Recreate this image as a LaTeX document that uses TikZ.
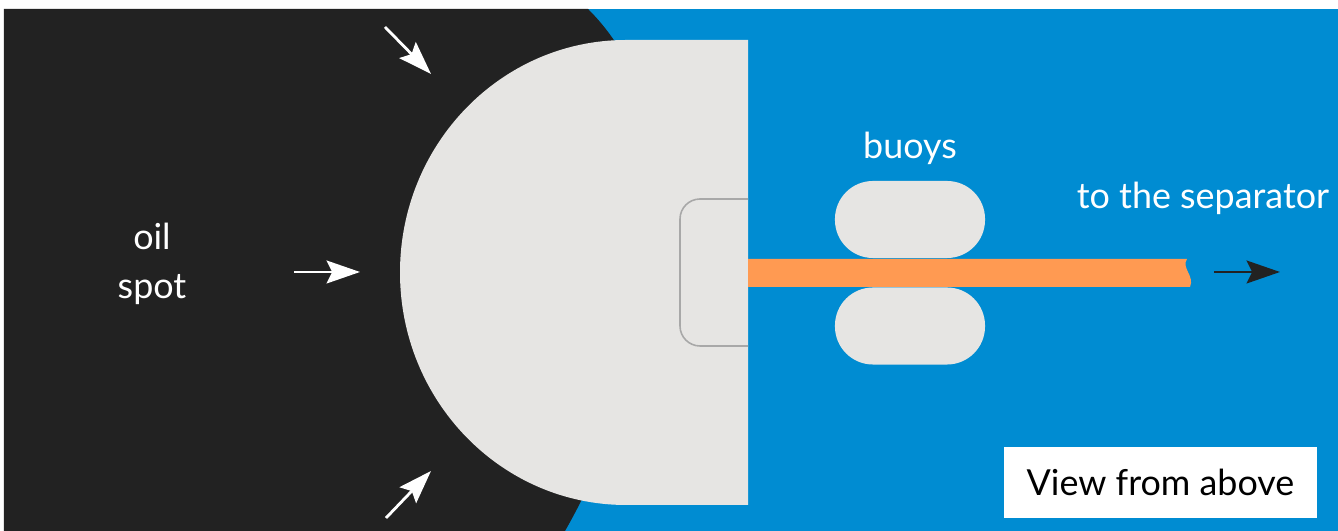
\documentclass[tikz,border=0pt]{standalone}
\usepackage{fontspec}
\setmainfont{Lato}
\usetikzlibrary{arrows.meta}
\definecolor{oil}{HTML}{222222}
\definecolor{sea}{HTML}{008CD2}
\definecolor{boom}{HTML}{E6E5E3}
\definecolor{hose}{HTML}{FF9A52}
\definecolor{rim}{HTML}{A8A8A8}
\begin{document}
\begin{tikzpicture}[x=0.01cm, y=-0.01cm, line join=round,
    flow/.style={-{Stealth[length=9.5pt, width=6.5pt, inset=1.6pt]}, line width=0.8pt},
    txt/.style={text=white, font=\fontsize{10.2}{14}\selectfont, align=center},
    buoy/.style={fill=boom, rounded corners=0.38cm, inner sep=0pt,
                 minimum width=1.5cm, minimum height=0.77cm}]
    % Margini e sfondo
    \fill[white] (0,0) rectangle (1338,531);
    \useasboundingbox (0,0) rectangle (1338,531);
    \fill[sea] (4,9) rectangle (1338,531);

    % Macchia di petrolio
    \fill[oil] (4,9) -- (588,9) .. controls (720,140) and (640,400) .. (565,531)
        -- (4,531) -- cycle;

    % Barriera (vista dall'alto)
    \fill[boom] (748,40) -- (626,40)
        arc[start angle=270, end angle=90, x radius=226, y radius=232.5]
        -- (748,505) -- cycle;
    \draw[rim, line width=0.45pt, rounded corners=5.7pt]
        (748,199) -- (680,199) -- (680,346) -- (748,346);

    % Boe
    \node[buoy] (buoyUp) at (910,219.5) {};
    \node[buoy] (buoyDown) at (910,326) {};

    % Tubo verso il separatore (estremita tagliata)
    \fill[hose] (748,259) -- (1187,259) .. controls (1181,268) and (1195,276) .. (1190,287)
        -- (748,287) -- cycle;

    % Testi
    \node[txt] (oilspot) at (152,264) {oil\\spot};
    \node[txt] (buoys) at (910,148) {buoys};
    \node[txt] (separator) at (1203,198) {to the separator};
    \node[fill=white, minimum width=3.13cm, minimum height=0.71cm,
          font=\fontsize{10.2}{14}\selectfont] (view) at (1160.5,482.5) {View from above};

    % Frecce
    \coordinate (nwTail) at (385,27);
    \coordinate (nwTip) at (431,74);
    \coordinate (wTail) at (294,272);
    \coordinate (wTip) at (360,272);
    \coordinate (swTail) at (386,518);
    \coordinate (swTip) at (431,471);
    \coordinate (outTail) at (1214,272);
    \coordinate (outTip) at (1280,272);
    \draw[flow, white] (nwTail) -- (nwTip);
    \draw[flow, white] (wTail) -- (wTip);
    \draw[flow, white] (swTail) -- (swTip);
    \draw[flow, oil] (outTail) -- (outTip);
\end{tikzpicture}
\end{document}
